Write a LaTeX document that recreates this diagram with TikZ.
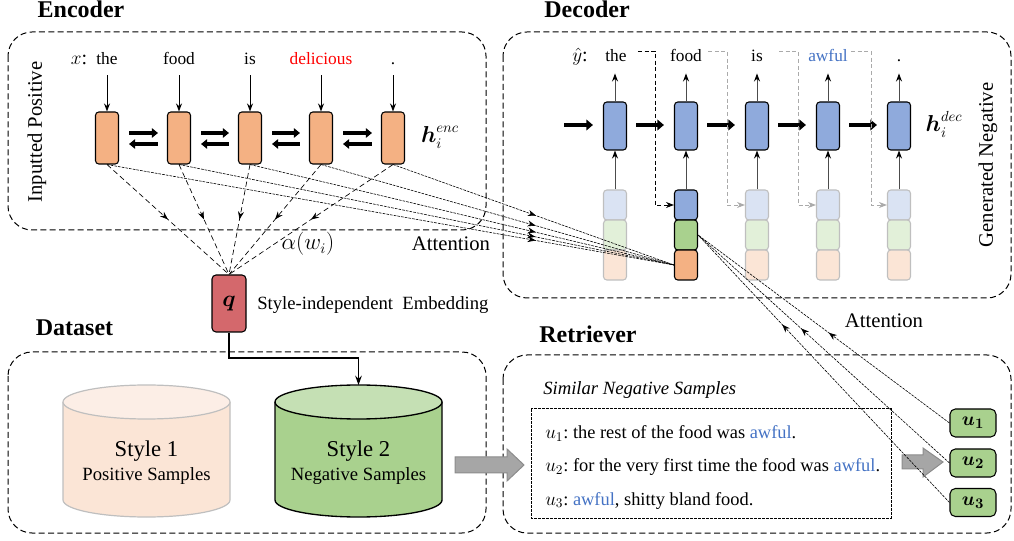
\documentclass[tikz,border=0pt]{standalone}
\usepackage{fontspec}
\setmainfont{Liberation Serif}
\usepackage{amsmath}
\usetikzlibrary{arrows.meta,decorations.markings,calc}

\definecolor{corange}{HTML}{F4B183}
\definecolor{cblue}{HTML}{8FAADC}
\definecolor{cgreen}{HTML}{A9D18E}
\definecolor{lblue}{HTML}{DAE3F3}
\definecolor{lgreen}{HTML}{E2F0D9}
\definecolor{lorange}{HTML}{FBE5D6}
\definecolor{ltop}{HTML}{FCEEE6}
\definecolor{gtop}{HTML}{C5E0B4}
\definecolor{lborder}{HTML}{BFBFBF}
\definecolor{cq}{HTML}{D4686C}
\definecolor{awfulblue}{HTML}{4472C4}
\definecolor{garrow}{HTML}{A6A6A6}
\definecolor{garrowb}{HTML}{8C8C8C}
\definecolor{fbgray}{HTML}{AAAAAA}

\newcommand\wordsz{\fontsize{13}{15}\selectfont}
\newcommand\titlesz{\fontsize{18}{20}\selectfont\bfseries}

\begin{document}
\begin{tikzpicture}[x=0.75pt,y=-0.75pt,
  groupbox/.style={draw,line width=0.75pt,dash pattern=on 4.5pt off 2.5pt,rounded corners=18pt},
  title/.style={anchor=base,inner sep=0pt,font=\titlesz},
  word/.style={anchor=base,inner sep=0pt,font=\wordsz},
  enccell/.style={draw,line width=0.8pt,fill=corange,rounded corners=2.5pt,minimum width=17.25pt,minimum height=39pt,inner sep=0pt},
  deccell/.style={draw,line width=0.8pt,fill=cblue,rounded corners=2.5pt,minimum width=17.25pt,minimum height=36pt,inner sep=0pt},
  lcell/.style={draw=lborder,line width=0.8pt,rounded corners=2.5pt,minimum width=17.25pt,minimum height=22.5pt,inner sep=0pt},
  acell/.style={draw,line width=0.8pt,rounded corners=2.5pt,minimum width=17.25pt,minimum height=22.5pt,inner sep=0pt},
  wordarr/.style={line width=0.7pt,-{Stealth[length=6pt,width=4.5pt]}},
  uparr/.style={line width=0.7pt,draw=black!70,-{Stealth[length=6pt,width=4.5pt,color=black]}},
  thickarr/.style={line width=2.6pt,-{Triangle[length=4.5pt,width=7pt]}},
  thickarrd/.style={line width=3pt,-{Triangle[length=5pt,width=8pt]}},
  midarrow/.style={postaction={decorate,decoration={markings,mark=at position #1 with {\arrow{Stealth[length=6pt,width=4.5pt]}}}}},
  encq/.style={line width=0.5pt,dash pattern=on 4pt off 2.5pt},
  attn/.style={line width=0.45pt,dash pattern=on 2pt off 0.8pt},
  fbk/.style={line width=0.6pt,dash pattern=on 3pt off 2pt,-{Stealth[length=6pt,width=4.5pt]}},
  fbg/.style={line width=0.6pt,draw=fbgray,dash pattern=on 3pt off 2pt,-{Stealth[length=6pt,width=4.5pt]}},
  ubox/.style={draw,line width=0.8pt,fill=cgreen,rounded corners=4pt,minimum width=34.5pt,minimum height=21pt,inner sep=0pt,font=\fontsize{15}{17}\selectfont},
  blockarr/.style={fill=garrow,draw=garrowb,line width=0.75pt},
  sample/.style={anchor=base west,inner sep=0pt,font=\fontsize{13.8}{15}\selectfont}
]
\useasboundingbox (0,0) rectangle (1014,541);

% ---------- group boxes ----------
\draw[groupbox] (8,32) rectangle (486,230);
\draw[groupbox] (503,32) rectangle (1011,298);
\draw[groupbox] (8,352) rectangle (486,533);
\draw[groupbox] (503,355) rectangle (1011,533);

\node[title] (tenc) at (81,18) {Encoder};
\node[title] (tdec) at (587,18) {Decoder};
\node[title] (tdat) at (74.5,336) {Dataset};
\node[title] (tret) at (588,343) {Retriever};

% ---------- encoder ----------
\node[rotate=90,font=\fontsize{15.5}{17}\selectfont] (inpos) at (37,132) {Inputted Positive};
\foreach \i/\x in {1/107,2/179,3/250,4/321,5/393}
  \node[enccell] (e\i) at (\x,138) {};
\node[word,font=\fontsize{15}{17}\selectfont] (wx) at (79,65) {$x$:};
\node[word] (w1) at (107,65) {the};
\node[word] (w2) at (179,65) {food};
\node[word] (w3) at (250,65) {is};
\node[word,text=red] (w4) at (321,65) {delicious};
\node[word] (w5) at (393,65) {.};
\foreach \i in {1,...,5}
  \draw[wordarr] (e\i.north) ++(0,-36) -- (e\i.north);
\foreach \i/\j in {1/2,2/3,3/4,4/5}{
  \draw[thickarr] ($(e\i.east)+(10,-5)$) -- ($(e\j.west)+(-9,-5)$);
  \draw[thickarr] ($(e\j.west)+(-9,6)$) -- ($(e\i.east)+(10,6)$);
}
\node[font=\fontsize{16}{18}\selectfont] (henc) at (440,137) {$\boldsymbol{h}_i^{enc}$};

% ---------- q ----------
\node[draw,line width=0.8pt,fill=cq,rounded corners=3pt,minimum width=25.5pt,minimum height=42.75pt,inner sep=0pt,font=\fontsize{18}{20}\selectfont] (q) at (229,303.5) {$\boldsymbol{q}$};
\node[anchor=west,inner sep=0pt,font=\fontsize{14}{16}\selectfont] (sie) at (257,305) {Style-independent\ \ Embedding};
\foreach \i in {1,...,5}
  \draw[encq,midarrow=0.5] (e\i.south) -- (q.north);
\node[font=\fontsize{16}{18}\selectfont] (alpha) at (308,244) {$\alpha(w_i)$};
\node[font=\fontsize{15.5}{17}\selectfont] (att1) at (451,244) {Attention};

% ---------- decoder ----------
\node[rotate=90,font=\fontsize{15.5}{17}\selectfont] (genneg) at (988,165) {Generated Negative};
\foreach \i/\x in {1/615,2/686,3/757,4/828,5/899}
  \node[deccell] (d\i) at (\x,126) {};
\foreach \i/\x in {1/615,3/757,4/828,5/899}{
  \node[lcell,fill=lblue] (c\i t) at (\x,205) {};
  \node[lcell,fill=lgreen] (c\i g) at (\x,235) {};
  \node[lcell,fill=lorange] (c\i o) at (\x,265) {};
}
\node[acell,fill=cblue] (c2t) at (686,205) {};
\node[acell,fill=cgreen] (c2g) at (686,235) {};
\node[acell,fill=corange] (c2o) at (686,265) {};

\node[word,font=\fontsize{15}{17}\selectfont] (vy) at (580,62) {$\hat{y}$:};
\node[word] (v1) at (616,62) {the};
\node[word] (v2) at (686,62) {food};
\node[word] (v3) at (757,62) {is};
\node[word,text=awfulblue] (v4) at (828,62) {awful};
\node[word] (v5) at (899,62) {.};

\foreach \i in {1,...,5}{
  \draw[uparr] (c\i t.north) -- (d\i.south);
  \draw[uparr] (d\i.north) -- ++(0,-28);
}
\coordinate (din) at (564,125);
\draw[thickarrd] (din) -- ($(d1.west)+(-10,-1)$);
\foreach \i/\j in {1/2,2/3,3/4,4/5}
  \draw[thickarrd] ($(d\i.east)+(9,-1)$) -- ($(d\j.west)+(-10,-1)$);
\node[font=\fontsize{16}{18}\selectfont] (hdec) at (944,124) {$\boldsymbol{h}_i^{dec}$};

\draw[fbk] ($(v1.east)+(11,-5)$) -| ($(c2t.west)+(-19,0)$) -- (c2t.west);
\draw[fbg] ($(v2.east)+(6,-5)$) -| ($(c3t.west)+(-18,0)$) -- (c3t.west);
\draw[fbg] ($(v3.east)+(16,-5)$) -| ($(c4t.west)+(-18,0)$) -- (c4t.west);
\draw[fbg] ($(v4.east)+(3,-5)$) -| ($(c5t.west)+(-16,0)$) -- (c5t.west);

% encoder -> decoder attention
\draw[attn,midarrow=0.756] (e1.south) -- (c2o.west);
\draw[attn,midarrow=0.72] (e2.south) -- (c2o.west);
\draw[attn,midarrow=0.674] (e3.south) -- (c2o.west);
\draw[attn,midarrow=0.608] (e4.south) -- (c2o.west);
\draw[attn,midarrow=0.509] (e5.south) -- (c2o.west);

% ---------- dataset ----------
\fill[lorange] (63,402) -- (63,500) arc[start angle=180,end angle=0,x radius=83.5,y radius=17] -- (230,402) -- cycle;
\draw[lborder,line width=0.9pt] (63,402) -- (63,500) arc[start angle=180,end angle=0,x radius=83.5,y radius=17] -- (230,402);
\draw[lborder,line width=0.9pt,fill=ltop] (146.5,402) ellipse[x radius=83.5,y radius=17];
\node[inner sep=0pt,font=\fontsize{17}{19}\selectfont] (s1a) at (146.5,451) {Style 1};
\node[inner sep=0pt,font=\fontsize{14}{16}\selectfont] (s1b) at (146.5,476) {Positive Samples};

\fill[cgreen] (275,402) -- (275,500) arc[start angle=180,end angle=0,x radius=83.5,y radius=17] -- (442,402) -- cycle;
\draw[line width=1pt] (275,402) -- (275,500) arc[start angle=180,end angle=0,x radius=83.5,y radius=17] -- (442,402);
\draw[line width=1pt,fill=gtop] (358.5,402) ellipse[x radius=83.5,y radius=17];
\coordinate (s2top) at (358.5,385);
\node[inner sep=0pt,font=\fontsize{17}{19}\selectfont] (s2a) at (358.5,451) {Style 2};
\node[inner sep=0pt,font=\fontsize{14}{16}\selectfont] (s2b) at (358.5,476) {Negative Samples};

\draw[line width=0.8pt,-{Stealth[length=7pt,width=5pt]}] (q.south) |- (358.5,358) -- (s2top);

% ---------- retriever ----------
\node[anchor=base west,inner sep=0pt,font=\fontsize{14}{16}\selectfont\itshape] (sns) at (543,395) {Similar Negative Samples};
\draw[line width=0.75pt,dash pattern=on 2pt off 1pt] (531,409) rectangle (891,518);
\node[sample] (l1) at (545,439) {$u_1$:\ the rest of the food was \textcolor{awfulblue}{awful}.};
\node[sample] (l2) at (545,472) {$u_2$:\ for the very first time the food was \textcolor{awfulblue}{awful}.};
\node[sample] (l3) at (545,505) {$u_3$:\ \textcolor{awfulblue}{awful}, shitty bland food.};

\node[ubox] (u1) at (973,423) {$\boldsymbol{u_1}$};
\node[ubox] (u2) at (973,463) {$\boldsymbol{u_2}$};
\node[ubox] (u3) at (973,502.5) {$\boldsymbol{u_3}$};

\draw[blockarr] (455,457) -- (507,457) -- (507,449) -- (524,465) -- (507,481) -- (507,473) -- (455,473) -- cycle;
\draw[blockarr] (902,455) -- (923,455) -- (923,448) -- (943,462) -- (923,477) -- (923,469) -- (902,469) -- cycle;

\draw[attn,midarrow=0.48] (u1.west) -- (c2g.east);
\draw[attn,midarrow=0.59] (u2.west) -- (c2g.east);
\draw[attn,midarrow=0.665] (u3.west) -- (c2g.east);
\node[font=\fontsize{15.5}{17}\selectfont] (att2) at (884,321) {Attention};

\end{tikzpicture}
\end{document}
